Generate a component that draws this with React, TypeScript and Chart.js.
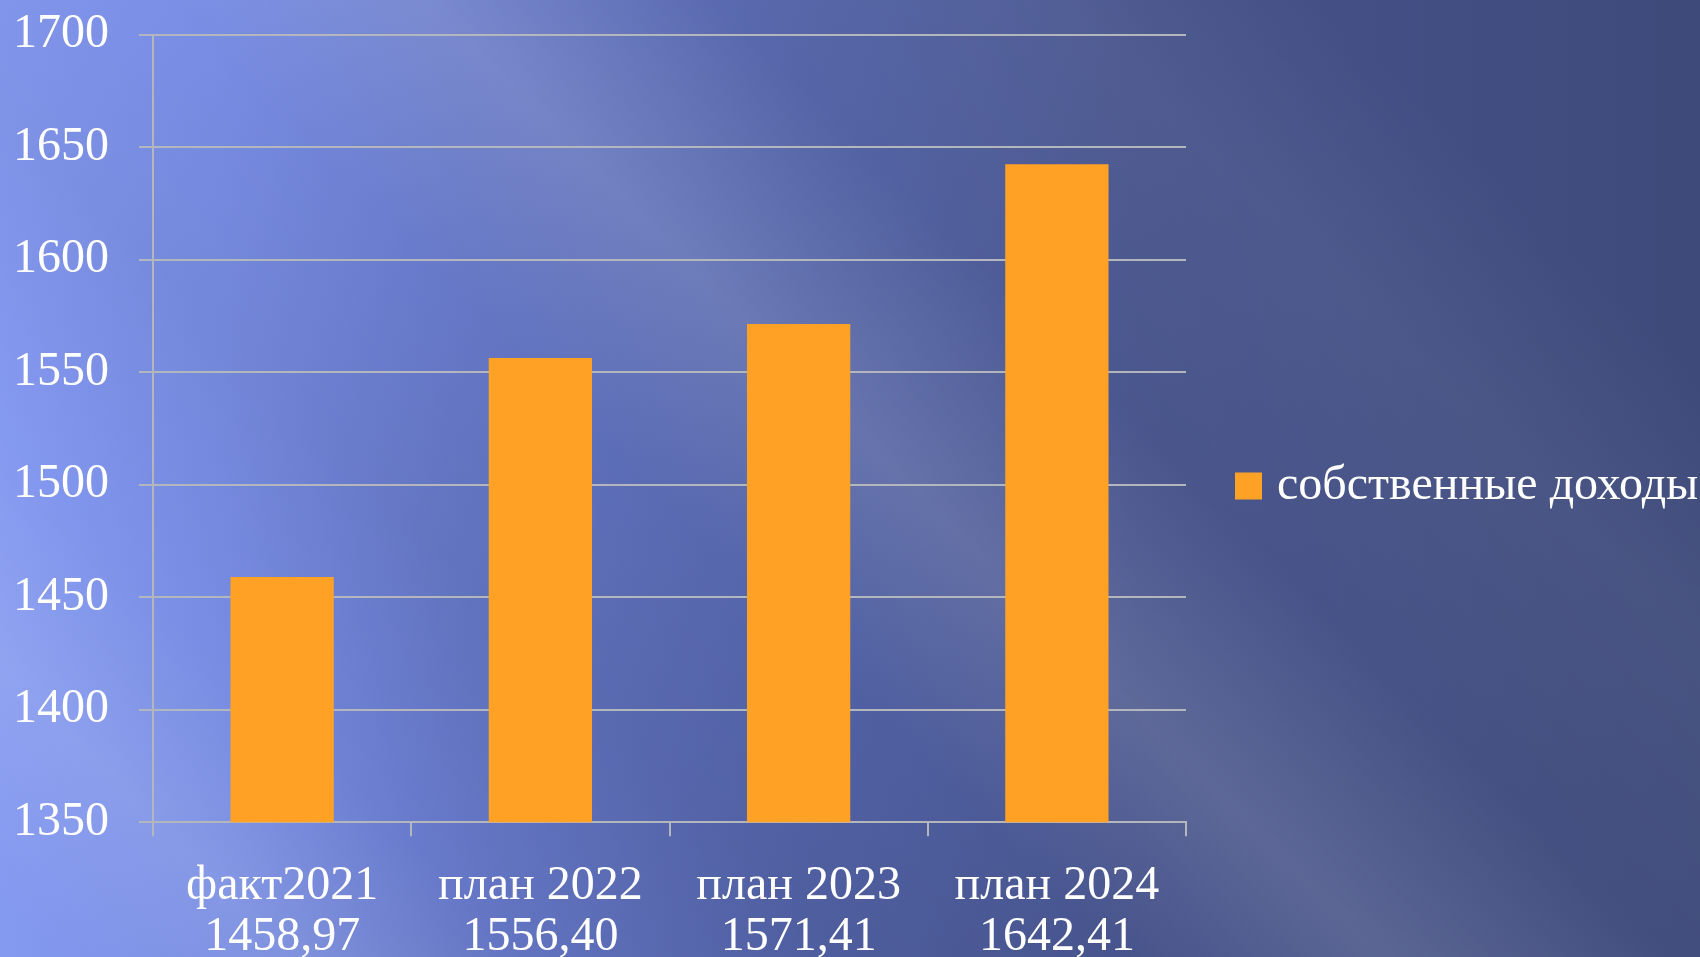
import React, { useEffect, useRef } from "react";
import { Chart, registerables } from "chart.js";

Chart.register(...registerables);

const categoryNames: string[] = ["факт2021", "план 2022", "план 2023", "план 2024"];
const ownIncome: number[] = [1458.97, 1556.4, 1571.41, 1642.41];
const seriesLabel = "собственные доходы";
const yMin = 1350;
const yMax = 1700;
const yStep = 50;

const formatRu = (v: number) => v.toFixed(2).replace(".", ",");
const FONT_FAMILY = "'Liberation Serif', 'Times New Roman', serif";
const SHIFT_X = 30;
const SHIFT_Y = 24;

const sideLegend = {
  id: "sideLegend",
  afterDraw(chart: any) {
    const ctx = chart.ctx;
    const ds = chart.data.datasets[0];
    const area = chart.chartArea;
    const x = area.right + 49;
    const y = 486 + SHIFT_Y;
    ctx.save();
    ctx.fillStyle = ds.backgroundColor;
    ctx.fillRect(x, y - 13.5, 27, 27);
    ctx.fillStyle = "#ffffff";
    ctx.font = `48px ${FONT_FAMILY}`;
    ctx.textBaseline = "middle";
    ctx.textAlign = "left";
    ctx.fillText(ds.label, x + 42, y);
    ctx.restore();
  },
};

export default function App() {
  const canvasRef = useRef<HTMLCanvasElement | null>(null);

  useEffect(() => {
    document.body.style.margin = "0";
    const canvas = canvasRef.current;
    if (!canvas) return;
    const labels = categoryNames.map((n, i) => [n, formatRu(ownIncome[i])]);
    const font = { family: FONT_FAMILY, size: 48 };
    const gridColor = "#b4b6bd";
    const chart = new Chart(canvas, {
      type: "bar",
      data: {
        labels,
        datasets: [
          {
            label: seriesLabel,
            data: ownIncome,
            backgroundColor: "#ffa125",
            borderWidth: 0,
            categoryPercentage: 1,
            barPercentage: 0.4,
          },
        ],
      },
      plugins: [sideLegend],
      options: {
        animation: false,
        responsive: false,
        maintainAspectRatio: false,
        layout: { padding: { left: 13, top: 6, right: 514, bottom: 0 } },
        plugins: {
          tooltip: { enabled: false },
          legend: { display: false },
        },
        scales: {
          x: {
            grid: {
              offset: true,
              drawOnChartArea: false,
              drawTicks: true,
              tickLength: 14,
              color: gridColor,
              lineWidth: 2,
            },
            border: { color: gridColor, width: 2 },
            ticks: {
              color: "#ffffff",
              font: { ...font, lineHeight: 1.06 },
              padding: 25,
              maxRotation: 0,
              autoSkip: false,
            },
          },
          y: {
            min: yMin,
            max: yMax,
            grid: {
              color: gridColor,
              lineWidth: 2,
              tickLength: 14,
            },
            border: { color: gridColor, width: 2 },
            ticks: {
              stepSize: yStep,
              color: "#ffffff",
              font,
              padding: 30,
              callback: (v: any) => String(v),
            },
          },
        },
      },
    });
    return () => chart.destroy();
  }, []);

  return (
    <div
      style={{
        position: "fixed",
        left: 0,
        top: 0,
        width: 1700,
        height: 957,
        overflow: "hidden",
        background:
          "linear-gradient(45deg, rgba(255,255,255,0) 2%, rgba(255,255,255,0.10) 11%, rgba(255,255,255,0) 20%, rgba(0,0,0,0.04) 32%, rgba(255,255,255,0) 42%, rgba(255,255,255,0.13) 52%, rgba(255,255,255,0.02) 63%, rgba(255,255,255,0.05) 76%, rgba(255,255,255,0) 86%), linear-gradient(90deg, #8499f0 0%, #778ce2 13%, #6577c6 27%, #5262a6 47%, #46538b 67%, #3e4a7a 100%)",
      }}
    >
      <canvas
        ref={canvasRef}
        width={1700 + SHIFT_X}
        height={1012}
        style={{ display: "block", marginLeft: -SHIFT_X, marginTop: -SHIFT_Y }}
      />
    </div>
  );
}
